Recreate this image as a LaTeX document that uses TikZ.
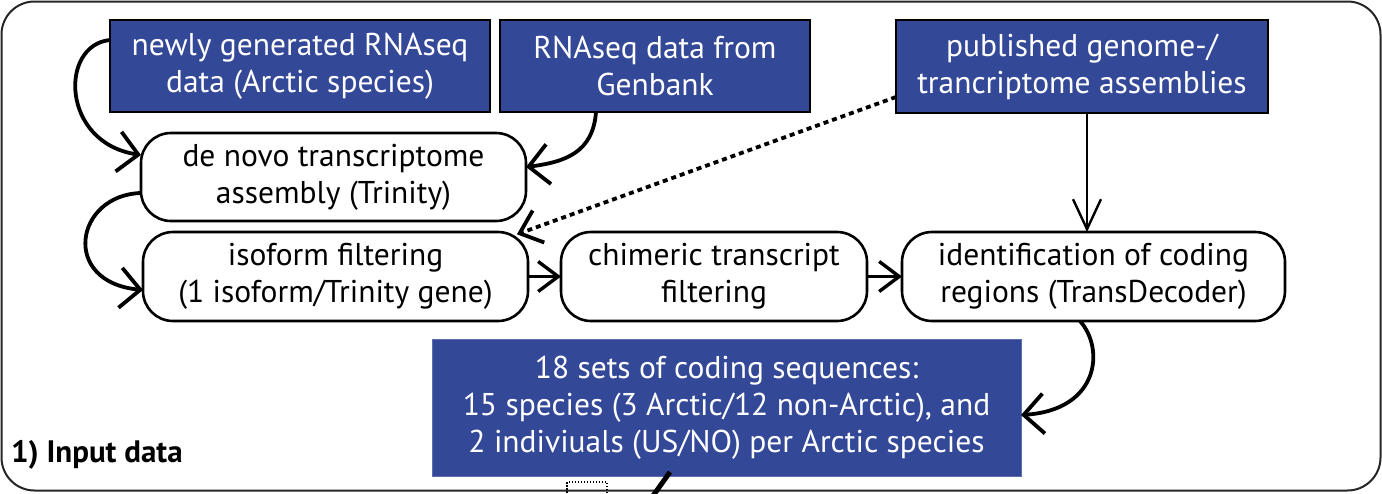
\documentclass[tikz,border=0pt]{standalone}
\usepackage{fontspec}
\setmainfont{PT Sans}
\usetikzlibrary{arrows.meta,calc}
\definecolor{inblue}{RGB}{52,72,152}
\begin{document}
\begin{tikzpicture}[x=1pt,y=-1pt,
  every node/.style={font=\fontsize{31.5}{37}\selectfont, align=center, inner sep=0pt, outer sep=0pt},
  srcbox/.style={draw=black, line width=2.5pt, fill=inblue, text=white},
  procbox/.style={draw=black, line width=2.6pt, rounded corners=30pt, fill=white, minimum height=89pt},
  curveflow/.style={line width=3.8pt, -{Straight Barb[length=20pt,width=40pt]}},
  shortflow/.style={line width=3.4pt, -{Straight Barb[length=20pt,width=30pt]}},
  vertflow/.style={line width=2.4pt, -{Straight Barb[length=30pt,width=28pt]}},
  dotflow/.style={line width=3.8pt, dash pattern=on 5pt off 4pt, -{Straight Barb[length=20pt,width=34pt,sep]}},
  ]
\useasboundingbox (0,0) rectangle (1382,493);

% panel frame
\draw[line width=2pt, draw=black!85, rounded corners=33pt] (1.5,1.5) rectangle (1380.5,490.5);

% input sources
\node[srcbox, minimum width=380pt, minimum height=92pt] (new) at (300,66) {newly generated RNAseq\\data (Arctic species)};
\node[srcbox, minimum width=310pt, minimum height=92pt] (rna) at (655,66) {RNAseq data from\\Genbank};
\node[srcbox, minimum width=372pt, minimum height=93pt] (pub) at (1082,66.5) {published genome-/\\trancriptome assemblies};

% processing steps
\node[procbox, minimum width=385pt, minimum height=88pt] (denovo) at (333.5,177) {de novo transcriptome\\assembly (Trinity)};
\node[procbox, minimum width=385pt] (isoform) at (335.5,276.5) {isoform filtering\\(1 isoform/Trinity gene)};
\node[procbox, minimum width=306pt] (chimeric) at (714,276.5) {chimeric transcript\\filtering};
\node[procbox, minimum width=383pt] (ident) at (1093.5,276.5) {identification of coding\\regions (TransDecoder)};

% result
\node[fill=inblue, draw=inblue!80!white, line width=1pt, text=white, minimum width=589pt, minimum height=137pt] (cds) at (726.5,407.5)
  {18 sets of coding sequences:\\15 species (3 Arctic/12 non-Arctic), and\\2 indiviuals (US/NO) per Arctic species};

% panel title
\node[anchor=base west, font=\fontsize{31}{37}\selectfont\bfseries] (title) at (11,462) {1) Input data};

% connectors
\draw[curveflow] ([yshift=26pt]new.west) .. controls +(-51,5) and +(-80,-12) .. ([yshift=22pt]denovo.west);
\draw[curveflow] ([xshift=-59pt]rna.south) .. controls +(-3,40) and +(40,-5) .. ([yshift=10pt]denovo.east);
\draw[curveflow] ([yshift=-16pt]denovo.west) .. controls +(-66,2) and +(-83,-8) .. ([yshift=-13.5pt]isoform.west);
\draw[dotflow] ([yshift=-30.5pt]pub.west) -- ([xshift=-13pt,yshift=-3pt]isoform.north east);
\draw[vertflow] ([xshift=5pt]pub.south) -- ([xshift=5pt]pub.south |- ident.north);
\draw[shortflow] (isoform.east) -- (chimeric.west);
\draw[shortflow] (chimeric.east) -- (ident.west);
\draw[curveflow] ([xshift=-13.5pt]ident.south) .. controls +(25,28) and +(78,-5) .. ([yshift=-7.5pt]cds.east);

% edge of the following panel
\draw[line width=1.5pt, dash pattern=on 1.5pt off 1.5pt] (567,482) rectangle (607,505);
\draw[line width=5pt] (650,500) -- (670,472);
\end{tikzpicture}
\end{document}
